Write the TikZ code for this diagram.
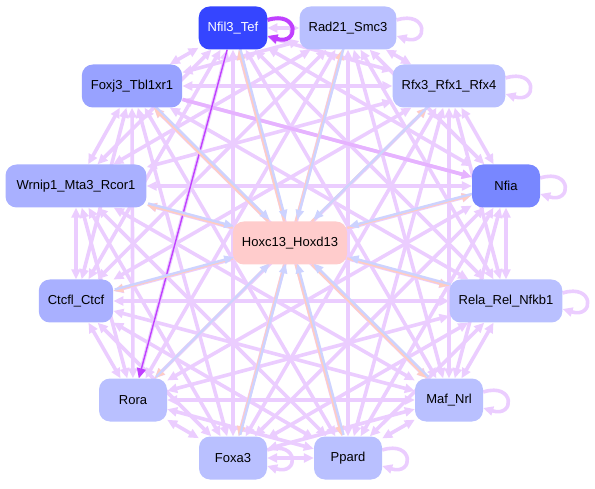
\documentclass[tikz,border=0pt]{standalone}
\usepackage{fontspec}
\setmainfont{Liberation Sans}
\usepackage{xcolor}
\usepackage{tikz}
\usetikzlibrary{arrows.meta,backgrounds}

\definecolor{tfdeep}{HTML}{3545FF}
\definecolor{tfmid}{HTML}{7887FF}
\definecolor{tfsoft}{HTML}{98A2FF}
\definecolor{tfpale}{HTML}{A9B0FF}
\definecolor{tflight}{HTML}{B9C0FF}
\definecolor{hoxfill}{HTML}{FFCCCC}
\definecolor{linkc}{HTML}{EBCDFF}
\definecolor{outc}{HTML}{FFCDC3}
\definecolor{inc}{HTML}{CDD3FF}
\definecolor{strongc}{HTML}{C040FF}

% self loop on the right side of a node
\newcommand{\selfloop}[2][link]{%
  \draw[#1,->] ([yshift=8pt]#2.east) .. controls +(32pt,10pt) and +(32pt,-10pt) .. ([yshift=-8pt]#2.east);}

\begin{document}
\begin{tikzpicture}[x=1pt, y=-1pt, >={Triangle[length=10pt,width=9pt]},
  every node/.style={font=\fontsize{13}{15}\selectfont},
  tf/.style={rounded corners=11pt, minimum width=68pt, minimum height=43pt, inner xsep=9pt},
  link/.style={draw=linkc, line width=3.6pt},
  outlink/.style={draw=outc, line width=2.4pt, >={Triangle[length=10pt,width=8pt]}},
  inlink/.style={draw=inc, line width=2.4pt, >={Triangle[length=10pt,width=8pt]}}]
  \useasboundingbox (0,0) rectangle (595,489);

  \node[tf, fill=tfdeep, text=white] (nfil) at (233,28) {Nfil3\_Tef};
  \node[tf, fill=tflight] (rad) at (348,28) {Rad21\_Smc3};
  \node[tf, fill=tfsoft] (foxj) at (132,86) {Foxj3\_Tbl1xr1};
  \node[tf, fill=tflight] (rfx) at (449,86) {Rfx3\_Rfx1\_Rfx4};
  \node[tf, fill=tfpale, inner xsep=11pt] (wrn) at (76,186) {Wrnip1\_Mta3\_Rcor1};
  \node[tf, fill=tfmid] (nfia) at (506,186) {Nfia};
  \node[tf, fill=hoxfill] (hox) at (290,243) {Hoxc13\_Hoxd13};
  \node[tf, fill=tfpale] (ctcf) at (76,301) {Ctcfl\_Ctcf};
  \node[tf, fill=tflight] (rela) at (506,301) {Rela\_Rel\_Nfkb1};
  \node[tf, fill=tflight] (rora) at (133,400) {Rora};
  \node[tf, fill=tflight] (maf) at (449,400) {Maf\_Nrl};
  \node[tf, fill=tflight] (foxa) at (233,458) {Foxa3};
  \node[tf, fill=tflight] (ppard) at (348,458) {Ppard};

  \begin{scope}[on background layer]
    % interactions between the outer factors
    \foreach \a [count=\i] in {nfil,rad,foxj,rfx,wrn,nfia,ctcf,rela,rora,maf,foxa,ppard}
      \foreach \b [count=\j] in {nfil,rad,foxj,rfx,wrn,nfia,ctcf,rela,rora,maf,foxa,ppard}
        {\ifnum\j>\i \draw[link,<->] (\a) -- (\b);\fi}
    \draw[draw=strongc!40, line width=3.6pt, ->] (foxj) -- (nfia);
    \draw[draw=strongc, line width=1.4pt, ->] (nfil) -- (rora);
    % to and from Hoxc13_Hoxd13
    \foreach \t in {nfil,rad,foxj,rfx,wrn,nfia,ctcf,rela,rora,maf,foxa,ppard} {
      \draw[outlink,->] (hox) -- (\t);
      \draw[inlink,->,transform canvas={shift={(1.4pt,1.4pt)}}] (\t) -- (hox);
    }
    \selfloop[draw=strongc, line width=4pt]{nfil}
    \selfloop{rad}
    \selfloop{rfx}
    \selfloop{nfia}
    \selfloop{rela}
    \selfloop{maf}
    \selfloop{foxa}
    \selfloop{ppard}
  \end{scope}
\end{tikzpicture}
\end{document}
